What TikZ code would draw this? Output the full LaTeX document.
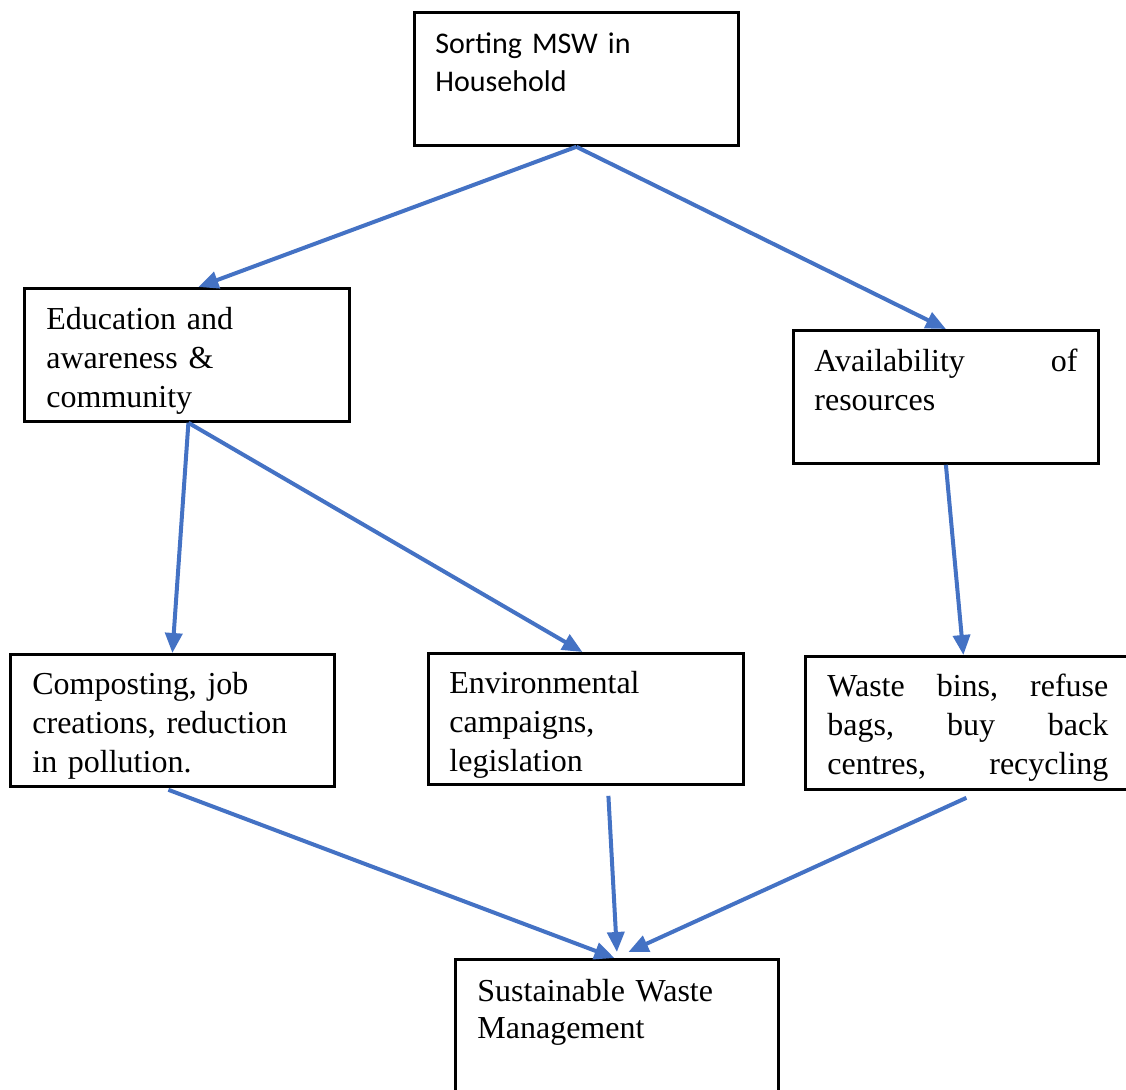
\documentclass[tikz,border=0pt]{standalone}
\usepackage{fontspec}
\setmainfont{Liberation Serif}
\newfontfamily\calibri{Carlito}
\usepackage{tikz}
\usetikzlibrary{arrows.meta}

\definecolor{arrowblue}{HTML}{4472C4}

\begin{document}
\begin{tikzpicture}[x=1pt,y=-1pt,
    box/.style={draw,line width=2.8pt,anchor=north west,align=left,inner ysep=0pt,inner xsep=22pt,
      text height=41pt,text depth=92pt,font=\fontsize{32}{39}\selectfont},
    link/.style={arrowblue,line width=4pt,-{Triangle[length=20pt,width=17pt]}}]
  \useasboundingbox (0,0) rectangle (1126,1089);

  \node[box,inner xsep=21pt,text width=282pt,font=\calibri\fontsize{30}{38}\selectfont] (sort) at (413,11) {Sorting MSW in\\Household};
  \node[box,text width=281pt] (edu) at (23,287) {Education and\\awareness \&\\community};
  \node[box,inner xsep=21pt,text width=263pt] (avail) at (792,329) {Availability \hfill of\\resources};
  \node[box,text width=280pt,text height=40pt] (comp) at (9,653) {Composting, job\\creations, reduction\\in pollution.};
  \node[box,inner xsep=21pt,text width=273pt,text height=40pt,text depth=91pt] (env) at (427,652) {Environmental\\campaigns,\\legislation};
  \node[box,text width=281pt,text height=40pt,text depth=93pt] (waste) at (804,655) {Waste \hfill bins, \hfill refuse\\bags, \hfill buy \hfill back\\centres, \hfill recycling};
  \node[box,text width=279pt,text height=42pt,text depth=110pt,font=\fontsize{32}{37}\selectfont] (sust) at (454,958) {Sustainable Waste\\Management};

  \draw[link] (sort.south) -- ([xshift=11.5pt]edu.north);
  \draw[link] (sort.south) -- (avail.north);
  \draw[link] ([xshift=1.5pt]edu.south) -- (comp.north);
  \draw[link] ([xshift=1.5pt]edu.south) -- ([xshift=-3.5pt]env.north);
  \draw[link] (avail.south) -- ([xshift=-4.5pt]waste.north);
  \draw[link] ([xshift=-4pt,yshift=-2pt]comp.south) -- ([xshift=-2.5pt]sust.north);
  \draw[link] ([xshift=22.5pt,yshift=-10pt]env.south) -- ([yshift=6pt]sust.north);
  \draw[link] ([xshift=-1.5pt,yshift=-7pt]waste.south) -- ([xshift=11.5pt,yshift=6pt]sust.north);
\end{tikzpicture}
\end{document}
